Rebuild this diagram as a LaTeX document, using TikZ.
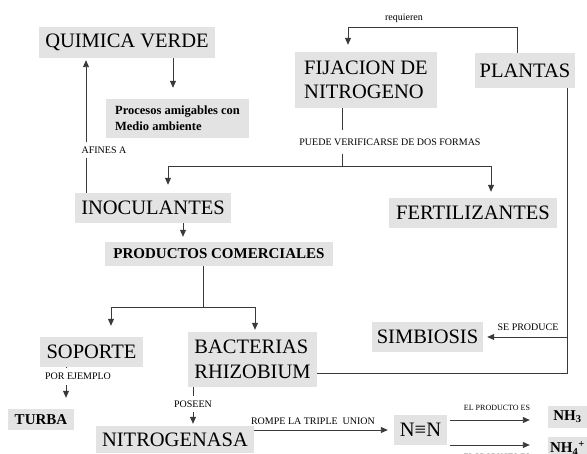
\documentclass[tikz,border=0pt]{standalone}
\usepackage{fontspec}
\setmainfont{Liberation Serif}
\usetikzlibrary{arrows.meta,calc}
\definecolor{boxgray}{HTML}{E3E3E3}
\definecolor{linegray}{HTML}{3A3A3A}
\begin{document}
\begin{tikzpicture}[x=1pt,y=-1pt,
  box/.style={fill=boxgray, inner sep=0pt, text=black},
  big/.style={box, font=\fontsize{20.5}{24.5}\selectfont},
  bld/.style={box, font=\fontsize{15}{17}\selectfont\bfseries},
  lbl/.style={inner sep=1pt, font=\fontsize{10}{12}\selectfont, text=black},
  sml/.style={inner sep=1pt, font=\fontsize{8}{10}\selectfont, text=black},
  conn/.style={draw=linegray, line width=0.9pt},
  arr/.style={conn, -{Triangle[width=6pt,length=7pt]}},
]
\useasboundingbox (0,0) rectangle (587,454);

% nodes
\node[big, minimum width=176pt, minimum height=31pt] (qv) at (127,42.5) {QUIMICA VERDE};
\node[box, font=\fontsize{12.5}{16}\selectfont\bfseries, align=left, minimum width=143pt, minimum height=39pt] (proc) at (177.5,118.5) {Procesos amigables con\\Medio ambiente};
\node[big, align=left, minimum width=142pt, minimum height=56pt] (fij) at (366,80) {FIJACION DE\\NITROGENO};
\node[big, minimum width=100pt, minimum height=35pt] (plantas) at (525,70.5) {PLANTAS};
\node[big, minimum width=156pt, minimum height=30pt] (ino) at (153,208) {INOCULANTES};
\node[big, minimum width=168pt, minimum height=30pt] (fert) at (473,213) {FERTILIZANTES};
\node[bld, minimum width=228pt, minimum height=24pt] (prod) at (219,254) {PRODUCTOS COMERCIALES};
\node[big, minimum width=103pt, minimum height=30pt] (sop) at (91.5,352) {SOPORTE};
\node[big, align=left, minimum width=129pt, minimum height=55pt] (bact) at (252.5,359.5) {BACTERIAS\\RHIZOBIUM};
\node[big, minimum width=111pt, minimum height=30pt] (simb) at (427.5,337) {SIMBIOSIS};
\node[bld, minimum width=66pt, minimum height=21pt] (turba) at (41,419.5) {TURBA};
\node[big, minimum width=158pt, minimum height=27pt] (nitro) at (175,439.5) {NITROGENASA};
\node[big, minimum width=53pt, minimum height=30pt] (nn) at (420.5,430) {N≡N};
\node[bld, minimum width=39pt, minimum height=22pt] (nh3) at (567.5,417) {NH\textsubscript{3}};
\node[bld, minimum width=39pt, minimum height=23pt] (nh4) at (567.5,448.5) {NH\textsubscript{4}\textsuperscript{+}};

% QUIMICA VERDE -> Procesos
\draw[arr, shorten >=11pt] ([xshift=46pt]qv.south) -- ([xshift=-4.5pt]proc.north);

% INOCULANTES -> QUIMICA VERDE
\draw[arr, shorten >=2pt] ([xshift=-67pt]ino.north) -- ([xshift=-41pt]qv.south);
\node[lbl, fill=white, inner ysep=5pt] (afines) at (104,150) {AFINES A};

% PLANTAS -> FIJACION
\coordinate (rq) at (348,27);
\draw[arr, shorten >=7pt] ([xshift=-8pt]plantas.north) |- (rq) -- ([xshift=-18pt]fij.north);
\node[lbl] (req) at (404,18) {requieren};

% FIJACION -> INOCULANTES, FERTILIZANTES
\coordinate (fsplit) at (342,166);
\draw[conn] ([xshift=-24pt]fij.south) -- (fsplit);
\draw[arr, shorten >=8pt] (fsplit) -| ([xshift=15pt]ino.north);
\draw[arr, shorten >=6pt] (fsplit) -| ([xshift=18pt]fert.north);
\node[lbl, fill=white, inner ysep=9pt] (puede) at (390,142) {PUEDE VERIFICARSE DE DOS FORMAS};

% INOCULANTES -> PRODUCTOS
\draw[arr, shorten >=5pt] ([xshift=30pt]ino.south) -- ([xshift=-36pt]prod.north);

% PRODUCTOS -> SOPORTE, BACTERIAS
\coordinate (psplit) at (203,307);
\draw[conn] ([xshift=-16pt]prod.south) -- (psplit);
\draw[arr, shorten >=11pt] (psplit) -| ([xshift=19.5pt]sop.north);
\draw[arr, shorten >=2pt] (psplit) -| ([xshift=2.5pt]bact.north);

% PLANTAS -> BACTERIAS, SIMBIOSIS
\coordinate (pc1) at (567,337);
\coordinate (pc2) at (567,373);
\draw[conn] ([xshift=42pt]plantas.south) -- (pc2) -- ([yshift=-13.5pt]bact.east);
\draw[arr, shorten >=4pt] (pc1) -- (simb.east);
\node[lbl] (seprod) at (528,327) {SE PRODUCE};

% SOPORTE -> TURBA
\draw[arr, shorten >=11pt] ([xshift=-25.5pt]sop.south) -- ([xshift=25pt]turba.north);
\node[lbl, fill=white, inner ysep=5pt] (porej) at (78,376.5) {POR EJEMPLO};

% BACTERIAS -> NITROGENASA
\draw[arr, shorten >=2pt] ([xshift=-59.5pt]bact.south) -- ([xshift=18pt]nitro.north);
\node[lbl, fill=white, inner ysep=4.5pt] (poseen) at (193,404) {POSEEN};

% NITROGENASA -> N≡N
\draw[arr, shorten >=6pt] (nitro.east |- nn.west) -- (nn.west);
\node[lbl] (rompe) at (313,421) {ROMPE LA TRIPLE\ \ UNION};

% N≡N -> NH3, NH4+
\coordinate (a1) at ([yshift=10pt]nn.east);
\coordinate (a1e) at (a1 -| nh3.west);
\coordinate (a2) at ([yshift=-15pt]nn.east);
\coordinate (a2e) at (a2 -| nh4.west);
\draw[arr, shorten <=3pt, shorten >=18pt] (a1) -- (a1e);
\draw[arr, shorten <=3pt, shorten >=18pt] (a2) -- (a2e);
\node[sml] (ep1) at (497,408) {EL PRODUCTO ES};
\node[sml] (ep2) at (497,457) {EL PRODUCTO ES};
\end{tikzpicture}
\end{document}
